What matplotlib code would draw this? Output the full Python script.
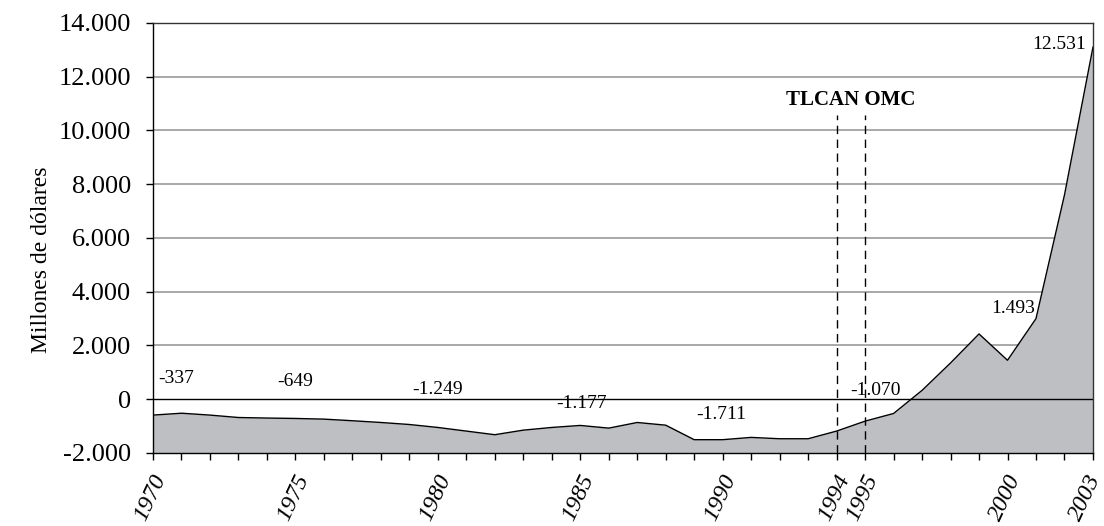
#!/usr/bin/env python3
import matplotlib
matplotlib.use('agg')
import matplotlib.pyplot as plt
import matplotlib.transforms as mtransforms

# Saldo en millones de dolares
years = list(range(1970, 2004))
values = [-590, -520, -590, -680, -700, -715, -740, -800, -865, -940,
          -1050, -1185, -1320, -1150, -1050, -975, -1075, -865, -965, -1505,
          -1505, -1420, -1470, -1470, -1185, -815, -530, 330, 1350, 2430,
          1450, 3000, 7600, 13100]

labelText = ['-337', '-649', '-1.249', '-1.177', '-1.711', '-1.070', '1.493', '12.531']
labelX = [1970.8, 1975.0, 1980.0, 1985.05, 1989.95, 1995.35, 2000.2, 2001.8]
labelY = [760, 650, 345, -140, -555, 310, 3370, 13190]

tickYears = [1970, 1975, 1980, 1985, 1990, 1994, 1995, 2000, 2003]
eventYears = [1994, 1995]

plt.rcParams['font.family'] = ['Liberation Serif', 'DejaVu Serif']

fig = plt.figure(figsize=(11.04, 5.26), dpi=100)
ax = fig.add_axes([0.1386, 0.1388, 0.8514, 0.8175])

ax.fill_between(years, values, -2000, color='#BEBFC3', lw=0)
ax.plot(years, values, color='black', lw=1.0)

for y in range(2000, 14000, 2000):
    ax.axhline(y, color='#9A9A9A', lw=1.2, zorder=0)
ax.axhline(0, color='black', lw=1.0)

for yr in eventYears:
    ax.plot([yr, yr], [-2000, 10580], color='black', lw=1.0, ls=(0, (6, 4)))
ax.text(1994.5, 11120, 'TLCAN OMC', ha='center', va='center',
        fontsize=15, fontweight='bold')

for t, x, y in zip(labelText, labelX, labelY):
    ax.text(x, y, t, ha='center', va='center', fontsize=14)

ax.set_xlim(1970, 2003)
ax.set_ylim(-2000, 14000)
ax.set_yticks(range(-2000, 14001, 2000))
ax.set_yticklabels([f'{v:,}'.replace(',', '.') for v in range(-2000, 14001, 2000)],
                   fontsize=19)
ax.set_xticks(years)
ax.set_xticklabels([str(y) if y in tickYears else '' for y in years],
                   fontsize=17.5, style='italic', rotation=65, ha='right', va='center',
                   rotation_mode='anchor')
ax.tick_params(direction='out', length=5, width=1.0, color='black')
ax.tick_params(axis='y', pad=11)
ax.tick_params(axis='x', pad=11.7)
for lab, yr in zip(ax.get_xticklabels(), years):
    dx = 3 if yr == 2003 else 8
    lab.set_transform(lab.get_transform() +
                      mtransforms.ScaledTranslation(dx / 100, 0, fig.dpi_scale_trans))
ax.set_ylabel('Millones de dólares', fontsize=17)
ax.yaxis.set_label_coords(-0.108, 0.449)

for side in ['top', 'right']:
    ax.spines[side].set_color('#333333')
    ax.spines[side].set_linewidth(1.0)
for side in ['left', 'bottom']:
    ax.spines[side].set_color('black')
    ax.spines[side].set_linewidth(1.0)

plt.savefig('out.png', dpi=100)
